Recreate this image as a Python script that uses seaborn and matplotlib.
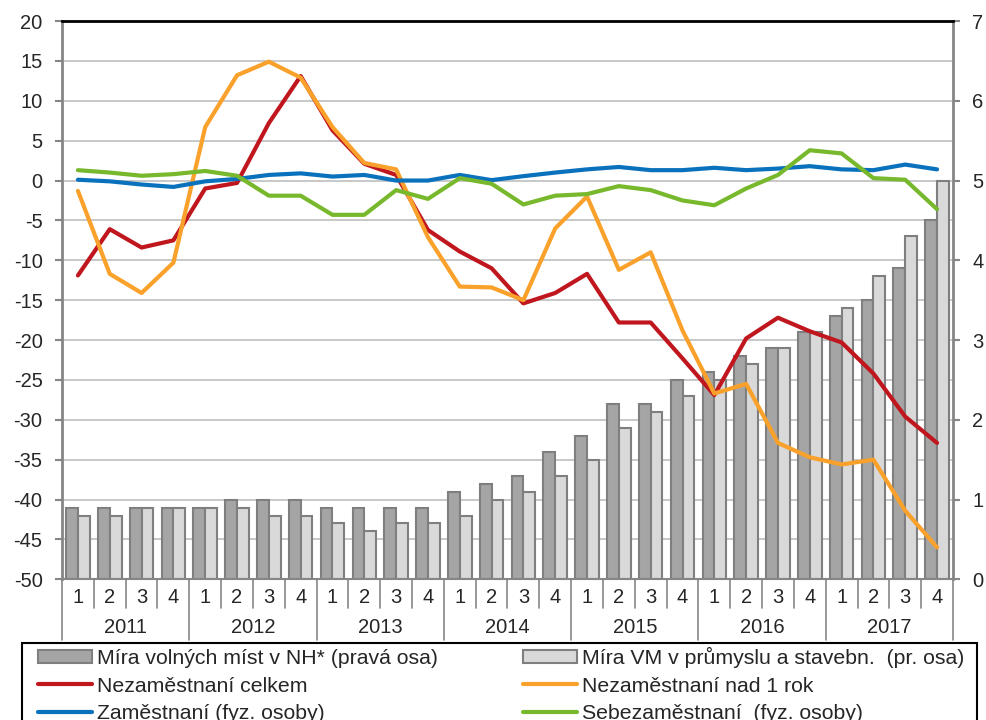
import matplotlib
matplotlib.use("Agg")
import matplotlib.pyplot as plt
import matplotlib.transforms as mtransforms
from matplotlib.patches import Patch, Rectangle
from matplotlib.lines import Line2D
import seaborn as sns
import pandas as pd
import numpy as np

# ---------------- data ----------------
years = ["2011", "2012", "2013", "2014", "2015", "2016", "2017"]
quarters = ["1", "2", "3", "4"]

bar_names = ["Míra volných míst v NH* (pravá osa)",
             "Míra VM v průmyslu a stavebn.  (pr. osa)"]
vacancy_nh = [0.9, 0.9, 0.9, 0.9, 0.9, 1.0, 1.0, 1.0, 0.9, 0.9, 0.9, 0.9,
              1.1, 1.2, 1.3, 1.6, 1.8, 2.2, 2.2, 2.5, 2.6, 2.8, 2.9, 3.1,
              3.3, 3.5, 3.9, 4.5]
vacancy_ind = [0.8, 0.8, 0.9, 0.9, 0.9, 0.9, 0.8, 0.8, 0.7, 0.6, 0.7, 0.7,
               0.8, 1.0, 1.1, 1.3, 1.5, 1.9, 2.1, 2.3, 2.5, 2.7, 2.9, 3.1,
               3.4, 3.8, 4.3, 5.0]

line_names = ["Nezaměstnaní celkem", "Nezaměstnaní nad 1 rok",
              "Zaměstnaní (fyz. osoby)", "Sebezaměstnaní  (fyz. osoby)"]
unemp_total = [-11.9, -6.1, -8.4, -7.5, -1.0, -0.3, 7.2, 13.1, 6.3, 2.1, 0.7, -6.2,
               -8.9, -11.0, -15.4, -14.1, -11.7, -17.8, -17.8, -22.3, -26.9, -19.8,
               -17.2, -18.9, -20.3, -24.2, -29.6, -32.9]
unemp_long = [-1.3, -11.7, -14.1, -10.3, 6.7, 13.2, 14.9, 12.9, 6.7, 2.2, 1.4, -7.1,
              -13.3, -13.4, -15.0, -6.0, -2.0, -11.2, -9.0, -18.8, -26.7, -25.5,
              -32.9, -34.7, -35.6, -35.0, -41.4, -46.0]
employed = [0.1, -0.1, -0.5, -0.8, -0.1, 0.2, 0.7, 0.9, 0.5, 0.7, 0.0, 0.0,
            0.7, 0.05, 0.55, 1.0, 1.4, 1.7, 1.3, 1.3, 1.6, 1.3, 1.5, 1.8,
            1.4, 1.3, 2.0, 1.4]
self_employed = [1.3, 1.0, 0.6, 0.8, 1.2, 0.6, -1.9, -1.9, -4.3, -4.3, -1.2, -2.3,
                 0.3, -0.4, -3.0, -1.9, -1.7, -0.7, -1.2, -2.5, -3.1, -1.0, 0.7, 3.8,
                 3.4, 0.3, 0.1, -3.6]

left_ticks = list(range(-50, 21, 5))
right_ticks = list(range(0, 8))

# ---------------- styles ----------------
bar_colors = ["#a5a5a5", "#d9d9d9"]
bar_edge = "#7f7f7f"
line_colors = ["#c0171f", "#f9a12a", "#0a72bd", "#78b82c"]
axis_grey = "#868686"
tick_fs = 14.5
leg_fs = 15.3

sns.set_style("white")
plt.rcParams["font.family"] = ["Liberation Sans", "DejaVu Sans"]
plt.rcParams["font.size"] = tick_fs
plt.rcParams["axes.unicode_minus"] = False

cats = [f"{y}-{q}" for y in years for q in quarters]
n = len(cats)

bars_df = pd.DataFrame({
    "cat": cats * 2,
    "value": vacancy_nh + vacancy_ind,
    "series": [bar_names[0]] * n + [bar_names[1]] * n,
})
lines_df = pd.DataFrame({
    "idx": list(range(n)) * 4,
    "value": unemp_total + unemp_long + employed + self_employed,
    "series": sum([[nm] * n for nm in line_names], []),
})

fig = plt.figure(figsize=(9.86, 7.2), dpi=100)
ax = fig.add_axes([0.0629, 0.1954, 0.9036, 0.7754])
ax2 = ax.twinx()

# bars on right axis
sns.barplot(data=bars_df, x="cat", y="value", hue="series", order=cats,
            hue_order=bar_names, palette=dict(zip(bar_names, bar_colors)),
            width=0.74, gap=0, edgecolor=bar_edge, linewidth=1.5,
            legend=False, ax=ax2, zorder=2)
ax2.set_ylim(0, 7)
ax2.set_yticks(right_ticks)
ax2.set_yticks([t + 0.5 for t in right_ticks[:-1]], minor=True)
ax2.grid(True, which="both", axis="y", color="#c4c4c4", lw=1.3)
ax2.grid(False, axis="x")
ax2.set_axisbelow(True)
ax2.set_ylabel("")
ax2.set_xlabel("")
ax2.tick_params(axis="y", which="major", right=True, length=5, width=1.5,
                color=axis_grey, pad=9, labelsize=tick_fs)
ax2.tick_params(axis="y", which="minor", length=0)
for s in ["top", "left", "bottom"]:
    ax2.spines[s].set_visible(False)
ax2.spines["right"].set_color(axis_grey)
ax2.spines["right"].set_linewidth(2)

# lines on left axis
sns.lineplot(data=lines_df, x="idx", y="value", hue="series", hue_order=line_names,
             palette=dict(zip(line_names, line_colors)), linewidth=3.0,
             legend=False, ax=ax)
ax.set_zorder(ax2.get_zorder() + 1)
ax.patch.set_visible(False)
ax.set_ylim(-50, 20)
ax.set_yticks(left_ticks)
ax.set_xlim(-0.5, n - 0.5)
ax.set_xticks([])
ax.set_xlabel("")
ax.set_ylabel("")
ax.grid(False)
ax.tick_params(axis="y", left=True, length=5, width=1.5, color=axis_grey,
               pad=9, labelsize=tick_fs)
ax.spines["right"].set_visible(False)
ax.spines["left"].set_color(axis_grey)
ax.spines["left"].set_linewidth(2)
ax.spines["bottom"].set_color(axis_grey)
ax.spines["bottom"].set_linewidth(1.5)
ax.spines["top"].set_color("black")
ax.spines["top"].set_linewidth(2)
ax2.set_xlim(-0.5, n - 0.5)

# category axis: quarters and years
trans = mtransforms.blended_transform_factory(ax.transData, ax.transAxes)
for k in range(n + 1):
    y_end = -0.109 if k % 4 == 0 else -0.052
    fig.add_artist(Line2D([k - 0.5, k - 0.5], [0, y_end], transform=trans,
                          color=axis_grey, lw=1.2, clip_on=False))
for i, c in enumerate(cats):
    ax.text(i, -0.032, quarters[i % 4], transform=trans, ha="center",
            va="center", fontsize=tick_fs)
for j, y in enumerate(years):
    ax.text(4 * j + 1.5, -0.086, y, transform=trans, ha="center",
            va="center", fontsize=tick_fs)

# legend frame (box continues below the figure edge)
fig.add_artist(Rectangle((22 / 986, -0.05), (977 - 22) / 986, (1 - 643 / 720) + 0.05,
                         transform=fig.transFigure, facecolor="white",
                         edgecolor="black", lw=1.5, zorder=1))

handles = [
    Patch(facecolor=bar_colors[0], edgecolor=bar_edge, lw=1.5, label=bar_names[0]),
    Line2D([], [], color=line_colors[0], lw=3.0, label=line_names[0]),
    Line2D([], [], color=line_colors[2], lw=3.0, label=line_names[2]),
    Patch(facecolor=bar_colors[1], edgecolor=bar_edge, lw=1.5, label=bar_names[1]),
    Line2D([], [], color=line_colors[1], lw=3.0, label=line_names[1]),
    Line2D([], [], color=line_colors[3], lw=3.0, label=line_names[3]),
]
leg = fig.legend(handles=handles, loc="upper left",
                 bbox_to_anchor=(38 / 986, 1 - 647 / 720), ncol=2,
                 frameon=False, handlelength=2.54, handleheight=0.6,
                 handletextpad=0.24, labelspacing=0.4, columnspacing=4.0,
                 borderpad=0, borderaxespad=0, fontsize=leg_fs)
leg.set_zorder(3)

fig.savefig("out.png", dpi=100)
